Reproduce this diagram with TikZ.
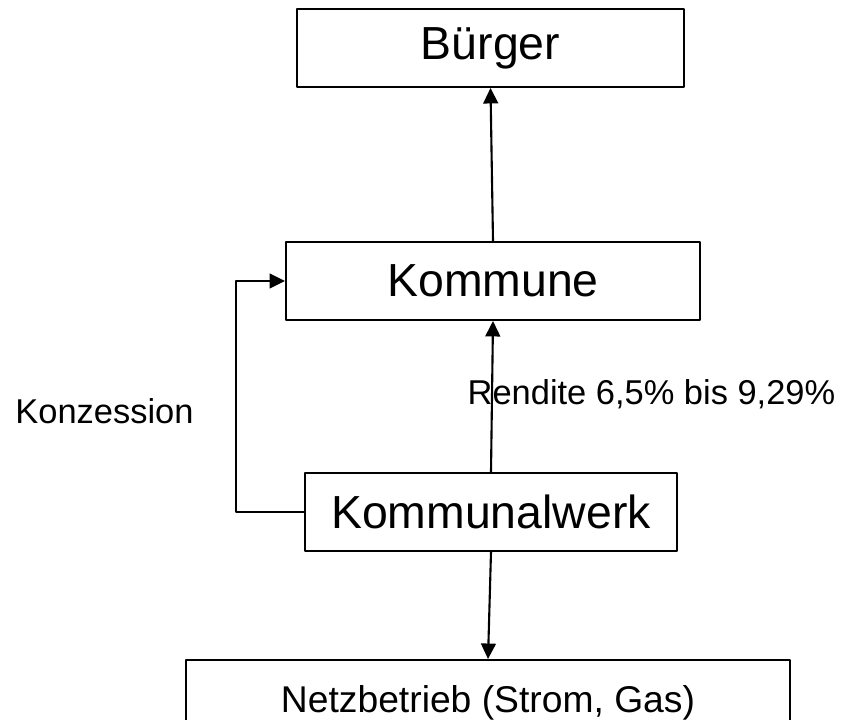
\documentclass[tikz,border=0pt]{standalone}
\usepackage{fontspec}
\setmainfont{Liberation Sans}
\usepackage{tikz}
\usetikzlibrary{calc}
\usetikzlibrary{arrows.meta}
\tikzstyle{every node}=[font=\fontsize{24.5}{28}\selectfont]
\tikzstyle{kasten}=[draw,line width=1.4pt,inner sep=0pt,minimum height=1.95cm]
\tikzstyle{gross}=[font=\fontsize{33}{38}\selectfont]

\begin{document}
\begin{tikzpicture}[line cap=round,line join=round,>={Triangle[length=11pt,width=10.5pt]},x=1.0cm,y=1.0cm]
                    \useasboundingbox (0.,0.) rectangle (21.1,17.975);
                    \clip(0.,0.) rectangle (21.1,17.975);
                    \node [kasten,gross,minimum width=9.675cm] (buerger) at (12.2625,16.775) {Bürger};
                    \node [kasten,gross,minimum width=10.35cm] (kommune) at (12.325,10.95) {Kommune};
                    \node [kasten,gross,minimum width=9.3cm] (kommunalwerk) at (12.275,5.175) {Kommunalwerk};
                    \node [kasten,minimum width=15.1cm,minimum height=2.15cm,font=\fontsize{26.5}{30}\selectfont] (netz) at (12.2,0.4) {Netzbetrieb (Strom, Gas)};
                    \node [anchor=base,inner sep=0pt] (konzession) at (2.6125,7.4) {Konzession};
                    \node [anchor=base,inner sep=0pt] (rendite) at (16.2875,7.85) {Rendite 6,5\% bis 9,29\%};
                    \draw [->,line width=1.5pt] (kommune.north) -- (buerger.south);
                    \draw [->,line width=1.5pt] (kommunalwerk.north) -- (kommune.south);
                    \draw [->,line width=1.5pt] (kommunalwerk.south) -- (netz.north);
                    \draw [->,line width=1.5pt] (kommunalwerk.west) -- ++(-1.7,0.) |- (kommune.west);
                    \end{tikzpicture}
\end{document}
